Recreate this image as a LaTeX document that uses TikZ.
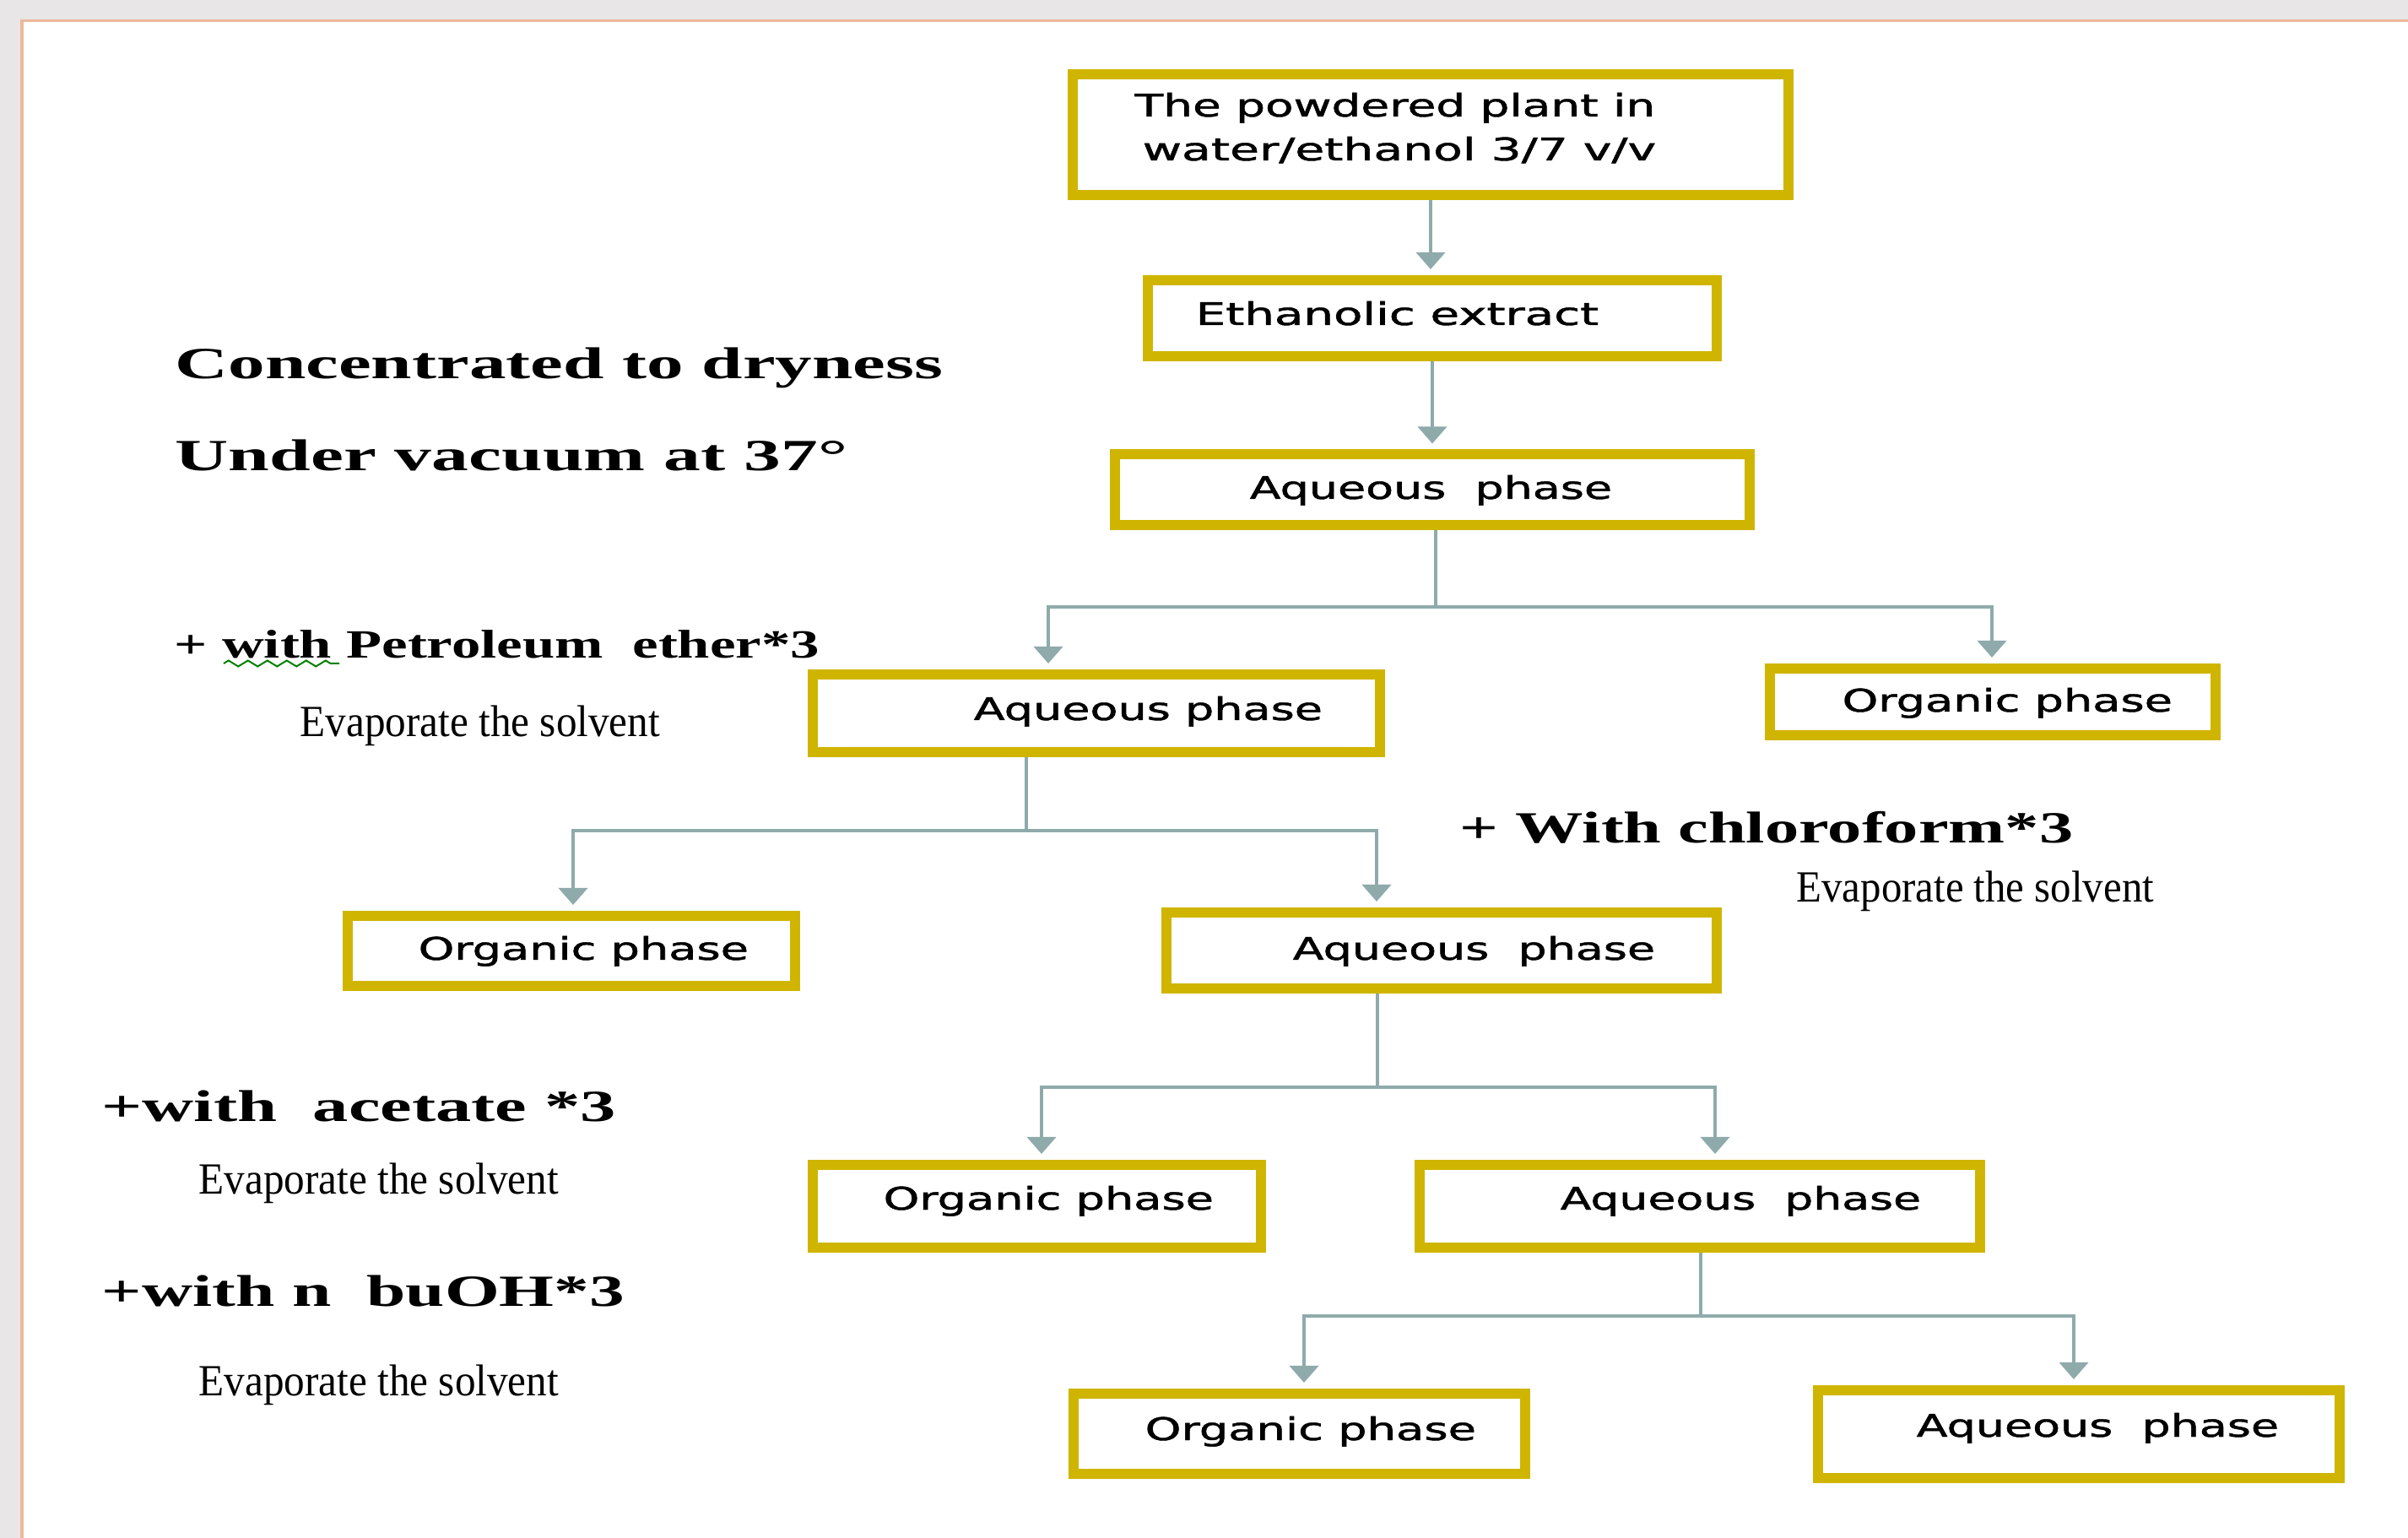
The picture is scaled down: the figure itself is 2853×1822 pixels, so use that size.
\documentclass[tikz,border=0pt]{standalone}
\usepackage{fontspec}
\usepackage{graphicx}
\usepackage{tikz}
\usetikzlibrary{arrows.meta,decorations.pathmorphing}
\setmainfont{Liberation Serif}
\newfontfamily\boxfont[FakeBold=1.2]{DejaVu Sans}
\definecolor{boxgold}{RGB}{207,181,0}
\definecolor{linkgray}{RGB}{143,170,170}
\definecolor{pagegray}{RGB}{232,230,230}
\definecolor{pageedge}{RGB}{237,184,154}
\definecolor{spellgreen}{RGB}{0,128,0}
\newcommand{\fitw}[2]{\resizebox{#1}{\height}{#2}}

\begin{document}
\begin{tikzpicture}[x=0.01cm,y=-0.01cm,
    box/.style={draw=boxgold,line width=0.12cm,fill=white,inner sep=0pt},
    btxt/.style={anchor=base west,inner sep=0pt,font=\boxfont\fontsize{10.5}{13}\selectfont},
    note/.style={anchor=base west,inner sep=0pt,font=\fontsize{15}{18}\selectfont},
    link/.style={draw=linkgray,line width=0.04cm},
    arr/.style={link,-{Triangle[width=0.34cm,length=0.2cm]},shorten >=0.07cm}]
  \useasboundingbox (0,0) rectangle (2853,1822);
  \fill[pagegray] (0,0) rectangle (2853,1822);
  \fill[white] (26,25) rectangle (2853,1822);
  \draw[pageedge,line width=0.03cm] (26,1822) -- (26,25) -- (2853,25);

  \node[box,minimum width=8.48cm,minimum height=1.43cm]  (PL)  at (1695,159.5) {};
  \node[box,minimum width=6.74cm,minimum height=0.90cm]  (EX)  at (1697,377) {};
  \node[box,minimum width=7.52cm,minimum height=0.83cm]  (AQ0) at (1697,580) {};
  \node[box,minimum width=6.72cm,minimum height=0.92cm]  (AQ1) at (1299,845) {};
  \node[box,minimum width=5.28cm,minimum height=0.79cm]  (OR1) at (2361,831.5) {};
  \node[box,minimum width=5.30cm,minimum height=0.83cm]  (OR2) at (677,1126.5) {};
  \node[box,minimum width=6.52cm,minimum height=0.90cm]  (AQ2) at (1708,1126) {};
  \node[box,minimum width=5.31cm,minimum height=0.98cm]  (OR3) at (1228.5,1429) {};
  \node[box,minimum width=6.64cm,minimum height=0.98cm]  (AQ3) at (2014,1429) {};
  \node[box,minimum width=5.35cm,minimum height=0.95cm]  (OR4) at (1539.5,1698.5) {};
  \node[box,minimum width=6.18cm,minimum height=1.04cm]  (AQ4) at (2463,1699) {};

  \node[btxt] (PLa)  at (1344,138)  {\fitw{6.16cm}{The powdered plant in}};
  \node[btxt] (PLb)  at (1353,190)  {\fitw{6.08cm}{water/ethanol 3/7 v/v}};
  \node[btxt] (EXt)  at (1416,385)  {\fitw{4.77cm}{Ethanolic extract}};
  \node[btxt] (AQ0t) at (1480,591)  {\fitw{4.29cm}{Aqueous~ phase}};
  \node[btxt] (AQ1t) at (1153,853)  {\fitw{4.13cm}{Aqueous phase}};
  \node[btxt] (OR1t) at (2182,843)  {\fitw{3.91cm}{Organic phase}};
  \node[btxt] (OR2t) at (495,1137)  {\fitw{3.91cm}{Organic phase}};
  \node[btxt] (AQ2t) at (1531,1137) {\fitw{4.29cm}{Aqueous~ phase}};
  \node[btxt] (OR3t) at (1046,1433) {\fitw{3.91cm}{Organic phase}};
  \node[btxt] (AQ3t) at (1848,1433) {\fitw{4.27cm}{Aqueous~ phase}};
  \node[btxt] (OR4t) at (1356,1706) {\fitw{3.92cm}{Organic phase}};
  \node[btxt] (AQ4t) at (2270,1702) {\fitw{4.29cm}{Aqueous~ phase}};

  \node[note] (C1) at (207,449)  {\fitw{9.09cm}{\bfseries Concentrated to dryness}};
  \node[note] (C2) at (207,558)  {\fitw{7.96cm}{\bfseries Under vacuum at 37°}};
  \node[note,font=\fontsize{13.5}{16}\selectfont] (W1) at (206,780) {\fitw{7.64cm}{\bfseries + with Petroleum~ ether*3}};
  \node[note] (E1) at (355,873)  {\fitw{4.26cm}{Evaporate the solvent}};
  \node[note] (W2) at (1729,999) {\fitw{7.26cm}{\bfseries + With chloroform*3}};
  \node[note] (E2) at (2128,1069) {\fitw{4.23cm}{Evaporate the solvent}};
  \node[note] (W3) at (120,1328) {\fitw{6.09cm}{\bfseries +with~ acetate *3}};
  \node[note] (E3) at (235,1414) {\fitw{4.26cm}{Evaporate the solvent}};
  \node[note] (W4) at (120,1547) {\fitw{6.19cm}{\bfseries +with n~ buOH*3}};
  \node[note] (E4) at (235,1653) {\fitw{4.26cm}{Evaporate the solvent}};
  \draw[spellgreen,line width=0.02cm,decorate,
        decoration={zigzag,amplitude=0.035cm,segment length=0.23cm}] (265,786) -- (402,786);

  \coordinate (s1) at (1701,719);  \coordinate (s1l) at (1242,719);  \coordinate (s1r) at (2360,719);
  \coordinate (s2) at (1216,984);  \coordinate (s2l) at (679,984);   \coordinate (s2r) at (1631,984);
  \coordinate (s3) at (1632,1288); \coordinate (s3l) at (1234,1288); \coordinate (s3r) at (2032,1288);
  \coordinate (s4) at (2015,1559); \coordinate (s4l) at (1545,1559); \coordinate (s4r) at (2457,1559);

  \draw[arr] (PL.south) -- (PL.south |- EX.north);
  \draw[arr] (EX.south) -- (EX.south |- AQ0.north);
  \draw[link] (AQ0.south -| s1) -- (s1);
  \draw[arr] (s1) -- (s1l) -- (s1l |- AQ1.north);
  \draw[arr] (s1) -- (s1r) -- (s1r |- OR1.north);
  \draw[link] (AQ1.south -| s2) -- (s2);
  \draw[arr] (s2) -- (s2l) -- (s2l |- OR2.north);
  \draw[arr] (s2) -- (s2r) -- (s2r |- AQ2.north);
  \draw[link] (AQ2.south -| s3) -- (s3);
  \draw[arr] (s3) -- (s3l) -- (s3l |- OR3.north);
  \draw[arr] (s3) -- (s3r) -- (s3r |- AQ3.north);
  \draw[link] (AQ3.south -| s4) -- (s4);
  \draw[arr] (s4) -- (s4l) -- (s4l |- OR4.north);
  \draw[arr] (s4) -- (s4r) -- (s4r |- AQ4.north);
\end{tikzpicture}
\end{document}
